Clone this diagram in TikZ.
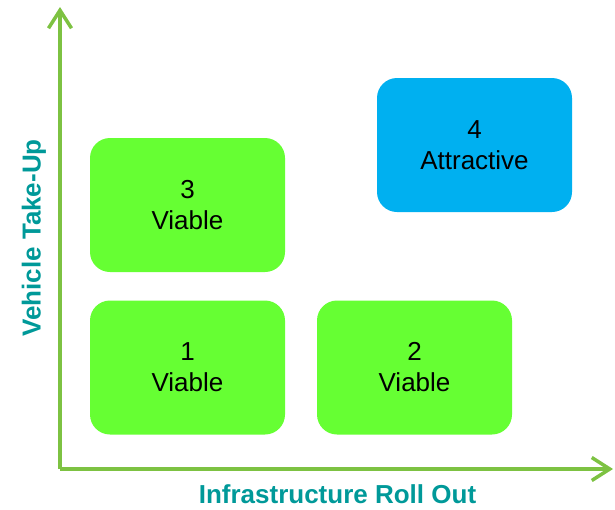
\documentclass[tikz,border=0pt]{standalone}
\usepackage{fontspec}
\setmainfont{Liberation Sans}
\usetikzlibrary{arrows.meta}
\definecolor{axisgreen}{HTML}{7DC242}
\definecolor{labelteal}{HTML}{009999}
\definecolor{viablegreen}{HTML}{66FF33}
\definecolor{attractblue}{HTML}{00B0F0}
\tikzset{
	quadrant/.style={rounded corners=20pt, minimum width=195pt, minimum height=134pt, inner sep=0pt, align=center, font=\fontsize{26}{31}\selectfont},
	axisline/.style={line width=3.5pt, draw=axisgreen, -{Straight Barb[length=18pt, width=23pt]}},
	axislabel/.style={text=labelteal, font=\fontsize{26}{30}\selectfont\bfseries}
}
\begin{document}
\begin{tikzpicture}[x=1pt, y=-1pt]
			%%%%% START %%%%%
			\useasboundingbox (0, 0) rectangle (615, 509);
			
			\coordinate (origin) at (60, 469);
			\coordinate (ytop) at (60, 7);
			\coordinate (xend) at (613, 469);
			\draw[axisline] (origin) -- (ytop);
			\draw[axisline] (origin) -- (xend);
			
			\node[quadrant, fill=viablegreen] (q1) at (187.5, 367.5) {1\\Viable};
			\node[quadrant, fill=viablegreen] (q2) at (414.5, 367.5) {2\\Viable};
			\node[quadrant, fill=viablegreen] (q3) at (187.5, 205) {3\\Viable};
			\node[quadrant, fill=attractblue] (q4) at (474.5, 145) {4\\Attractive};
			
			\node[axislabel] (xlabel) at (337.5, 494) {Infrastructure Roll Out};
			\node[axislabel, rotate=90] (ylabel) at (34, 238) {Vehicle Take-Up};
			%%%%% END %%%%%
\end{tikzpicture}
\end{document}
